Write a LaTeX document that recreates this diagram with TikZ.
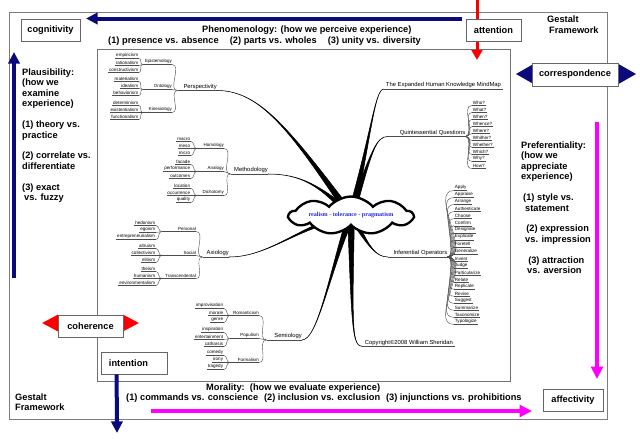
\documentclass[tikz,border=0pt]{standalone}
\usepackage{fontspec}
\setmainfont{Liberation Sans}
\newfontfamily\cloudfont{Liberation Serif}
\usetikzlibrary{arrows.meta,shapes.symbols,backgrounds}

\definecolor{gestaltnavy}{RGB}{10,10,125}
\definecolor{gestaltred}{RGB}{250,0,0}
\definecolor{gestaltpink}{RGB}{255,0,255}
\definecolor{framegray}{RGB}{125,125,125}
\definecolor{cloudblue}{RGB}{40,40,220}

\tikzset{
  facet/.style={draw=black!60, line width=0.7pt, fill=white, minimum height=0.66cm,
    inner sep=1pt, font=\fontsize{7.9}{8.9}\selectfont\bfseries},
  caption/.style={inner sep=0pt, align=left, font=\fontsize{7.9}{8.9}\selectfont\bfseries},
  navyflow/.style={draw=gestaltnavy, line width=0.12cm, -{Triangle[length=0.35cm,width=0.34cm]}},
  redflow/.style={draw=gestaltred, line width=0.09cm, -{Triangle[length=0.3cm,width=0.32cm]}},
  pinkflow/.style={draw=gestaltpink, line width=0.1cm, -{Triangle[length=0.37cm,width=0.35cm]}},
  mmline/.style={draw=black!70, line width=0.35pt},
  mmtext/.style={inner sep=0.6pt,
    append after command={(\tikzlastnode.south west) edge[mmline] (\tikzlastnode.south east)}},
  leaf/.style={mmtext, anchor=south east, font=\fontsize{3.9}{4.5}\selectfont},
  leafR/.style={mmtext, anchor=south west, font=\fontsize{3.9}{4.5}\selectfont},
  sub/.style={mmtext, anchor=south east, inner xsep=0pt, text width=#1, align=right,
    font=\fontsize{3.8}{4.5}\selectfont},
  topic/.style={mmtext, inner xsep=0pt, text width=#1, align=right, font=\fontsize{5}{6}\selectfont},
  topicR/.style={mmtext, inner xsep=1.5pt, font=\fontsize{5}{6}\selectfont},
  spoke/.style={fill=black, draw=black, line width=0.45pt}
}

\begin{document}
\begin{tikzpicture}[x=0.03cm, y=-0.03cm]
\useasboundingbox (0,0) rectangle (640,442);

% frames
\draw[framegray, line width=0.8pt] (9,12) rectangle (607,419);
\draw[black!55, line width=0.8pt] (97,49) rectangle (510,381);

% big arrows, behind the boxes
\coordinate (phenStart) at (462,18.5);
\coordinate (phenTip) at (86,18.5);
\draw[navyflow] (phenStart) -- (phenTip);
\coordinate (attnTop) at (477,0);
\coordinate (attnTip) at (477,60);
\draw[redflow] (attnTop) -- (attnTip);
\coordinate (plausBase) at (14,278);
\coordinate (plausTip) at (14,52);
\draw[navyflow] (plausBase) -- (plausTip);
\coordinate (cohL) at (42,323);
\coordinate (cohR) at (139,323);
\draw[redflow, {Triangle[length=0.48cm,width=0.48cm]}-{Triangle[length=0.48cm,width=0.48cm]}] (cohL) -- (cohR);
\coordinate (corrL) at (516,74);
\coordinate (corrR) at (636,74);
\draw[navyflow, line width=0.06cm, {Triangle[length=0.54cm,width=0.6cm]}-{Triangle[length=0.54cm,width=0.6cm]}] (corrL) -- (corrR);
\coordinate (prefTop) at (597,122);
\coordinate (prefTip) at (597,379);
\draw[pinkflow] (prefTop) -- (prefTip);
\coordinate (moralStart) at (151,411);
\coordinate (moralTip) at (532,411);
\draw[pinkflow] (moralStart) -- (moralTip);

% boxes
\node[facet, minimum width=1.77cm] (cog) at (50.5,30) {cognitivity};
\node[facet, minimum width=1.65cm] (attn) at (493.5,30) {attention};
\node[facet, minimum width=2.58cm, minimum height=0.69cm] (corr) at (575,74.5) {correspondence};
\node[facet, minimum width=1.95cm] (coh) at (90.5,326) {coherence};
\node[facet, text width=1.5cm, inner xsep=0.24cm, align=left] (intn) at (134,363) {intention};
\node[facet, minimum width=1.8cm] (aff) at (573,400) {affectivity};
\coordinate (intnTip) at (117,433);
\draw[navyflow] ([xshift=0.48cm]intn.south west) -- (intnTip);

% texts round the frame
\node[caption, anchor=base west] (phen) at (202,32.3) {Phenomenology: (how we perceive experience)};
\node[caption, anchor=base west] (phenList) at (108,43.6)
  {(1) presence vs. absence\hspace{9.6pt}(2) parts vs. wholes\hspace{9.6pt}(3) unity vs. diversity};
\node[caption, anchor=base west] (moral) at (206,390.6) {Morality:\ \ (how we evaluate experience)};
\node[caption, anchor=base west] (moralList) at (126,400.6)
  {(1) commands vs. conscience\hspace{5pt}(2) inclusion vs. exclusion\hspace{5pt}(3) injunctions vs. prohibitions};
\node[caption, anchor=north west] (gestTop) at (547,15.9) {Gestalt\\\hspace*{1.7pt}Framework};
\node[caption, anchor=north west] (gestBot) at (15,393.6) {Gestalt\\Framework};
\node[caption, anchor=north west] (plaus) at (22,68.6)
  {Plausibility:\\(how we\\examine\\experience)\\[8.9pt](1) theory vs.\\practice\\[8.9pt]%
   (2) correlate vs.\\differentiate\\[8.9pt](3) exact\\\hspace*{1.7pt}vs. fuzzy};
\node[caption, anchor=north west] (pref) at (521,141.6)
  {Preferentiality:\\(how we\\appreciate\\experience)\\[8.9pt]\hspace*{1.7pt}(1) style vs.\\
   \hspace*{3.4pt}statement\\[8.9pt]\hspace*{4.3pt}(2) expression\\\hspace*{3.4pt}vs. impression\\[8.9pt]%
   \hspace*{6pt}(3) attraction\\\hspace*{5.1pt}vs. aversion};

% mind map
\node[draw, cloud, cloud puffs=9, cloud puff arc=100, aspect=6, fill=white, line width=2pt,
  minimum width=3.7cm, minimum height=0.62cm, inner sep=0pt, text=cloudblue,
  font=\cloudfont\fontsize{5.2}{6}\selectfont\bfseries] (cloud) at (351,215.5) {realism - tolerance - pragmatism};

\node[topic=1.17cm, anchor=south east] (persp) at (217,90.5) {Perspectivity};
\node[topic=1.11cm, anchor=south east] (meth) at (268,174) {Methodology};
\node[topic=0.78cm, anchor=south east] (axio) at (229,257) {Axiology};
\node[topic=1.05cm, anchor=south east] (semio) at (302,340) {Semiology};
\node[topicR, anchor=south west] (expd) at (384,89) {The Expanded Human Knowledge MindMap};
\node[topic=2.31cm, anchor=south west] (quint) at (388,136.5) {Quintessential Questions};
\node[topic=1.77cm, anchor=south west] (infer) at (388,257) {Inferential Operators};
\node[topicR, anchor=south west] (copy) at (363,346.5) {Copyright©2008 William Sheridan};

\node[sub=0.87cm] (epis) at (172,64.5) {Epistemology};
\node[sub=0.87cm] (ont) at (172,89.5) {Ontology};
\node[sub=0.87cm] (kin) at (172,112.5) {Kinesiology};
\node[sub=0.81cm] (homo) at (224,148.5) {Homology};
\node[sub=0.81cm] (anlg) at (224,171.5) {Analogy};
\node[sub=0.81cm] (dich) at (224,195.5) {Dichotomy};
\node[sub=1.02cm] (pers) at (196,231.5) {Personal};
\node[sub=1.02cm] (soc) at (196,255.5) {Social};
\node[sub=1.02cm] (trans) at (196,278.5) {Transcendental};
\node[sub=0.87cm] (rom) at (259,315.5) {Romanticism};
\node[sub=0.87cm] (pop) at (259,338.5) {Populism};
\node[sub=0.87cm] (form) at (259,362.5) {Formalism};

\foreach \s in {epis,ont,kin}
  \draw[mmline] (persp.south west) to[out=180,in=0] (\s.south east);
\foreach \s in {homo,anlg,dich}
  \draw[mmline] (meth.south west) to[out=180,in=0] (\s.south east);
\foreach \s in {pers,soc,trans}
  \draw[mmline] (axio.south west) to[out=180,in=0] (\s.south east);
\foreach \s in {rom,pop,form}
  \draw[mmline] (semio.south west) to[out=180,in=0] (\s.south east);

\foreach \grp/\lx/\ly/\words in {
    epis/139/51.5/{empiricism,rationalism,constructivism},
    ont/139/74.5/{materialism,idealism,behaviorism},
    kin/139/98.5/{determinism,existentialism,functionalism},
    homo/191/134.5/{macro,meso,micro},
    anlg/191/157.5/{facade,performance,outcomes},
    dich/191/181.5/{location,occurrence,quality},
    pers/156/218.5/{hedonism,egoism,entrepreneurialism},
    soc/156/241.5/{altruism,collectivism,elitism},
    trans/156/264.5/{theism,humanism,environmentalism},
    rom/224/301.5/{improvisation,morale,genre},
    pop/224/325.5/{inspiration,entertainment,catharsis},
    form/224/348.5/{comedy,irony,tragedy}}
  \foreach \w [count=\k] in \words {
    \node[leaf] (\grp\k) at (\lx,{\ly+7*\k}) {\w};
    \draw[mmline] (\grp.south west) to[out=180,in=0] (\grp\k.south east);
  }

\foreach \q [count=\k] in {Who?,What?,When?,Whence?,Where?,Whither?,Whether?,Which?,Why?,How?} {
  \node[leafR] (quint\k) at (472,{98.5+7*\k}) {\q};
  \draw[mmline] (quint.south east) to[out=0,in=180] (quint\k.south west);
}
\foreach \q [count=\k] in {Apply,Appraise,Arrange,Authenticate,Choose,Confirm,Designate,Explicate,
    Foretell,Generalize,Invent,Judge,Particularize,Relate,Replicate,Revise,Suggest,Summarize,
    Taxonomize,Typologize} {
  \node[leafR] (infer\k) at (454,{183.45+7.05*\k}) {\q};
  \draw[mmline] (infer.south east) to[out=0,in=180] (infer\k.south west);
}

% thick branches out of the cloud
\begin{scope}[on background layer]
\filldraw[spoke] ([shift={(3,-2)}]cloud.center) .. controls (290,130) and (260,90.5) .. (persp.south east)
  .. controls (260,90.5) and (290,130) .. ([shift={(-3,2)}]cloud.center) -- cycle;
\filldraw[spoke] ([shift={(2.5,-2.5)}]cloud.center) .. controls (320,185) and (300,174) .. (meth.south east)
  .. controls (300,174) and (320,185) .. ([shift={(-2.5,2.5)}]cloud.center) -- cycle;
\filldraw[spoke] ([shift={(0.7,3.4)}]cloud.center) .. controls (300,225) and (270,257) .. (axio.south east)
  .. controls (270,257) and (300,225) .. ([shift={(-0.7,-3.4)}]cloud.center) -- cycle;
\filldraw[spoke] ([shift={(3.3,1.3)}]cloud.center) .. controls (330,270) and (318,340) .. (semio.south east)
  .. controls (318,340) and (330,270) .. ([shift={(-3.3,-1.3)}]cloud.center) -- cycle;
\filldraw[spoke] ([shift={(3.4,0.8)}]cloud.center) .. controls (372,130) and (375,89) .. (expd.south west)
  .. controls (375,89) and (372,130) .. ([shift={(-3.4,-0.8)}]cloud.center) -- cycle;
\filldraw[spoke] ([shift={(3.3,1.1)}]cloud.center) .. controls (372,150) and (376,136.5) .. (quint.south west)
  .. controls (376,136.5) and (372,150) .. ([shift={(-3.3,-1.1)}]cloud.center) -- cycle;
\filldraw[spoke] ([shift={(3,-1.7)}]cloud.center) .. controls (368,245) and (375,257) .. (infer.south west)
  .. controls (375,257) and (368,245) .. ([shift={(-3,1.7)}]cloud.center) -- cycle;
\filldraw[spoke] ([shift={(3.5,0)}]cloud.center) .. controls (352,330) and (352,346.5) .. (copy.south west)
  .. controls (352,346.5) and (352,330) .. ([shift={(-3.5,0)}]cloud.center) -- cycle;
\end{scope}
\end{tikzpicture}
\end{document}
